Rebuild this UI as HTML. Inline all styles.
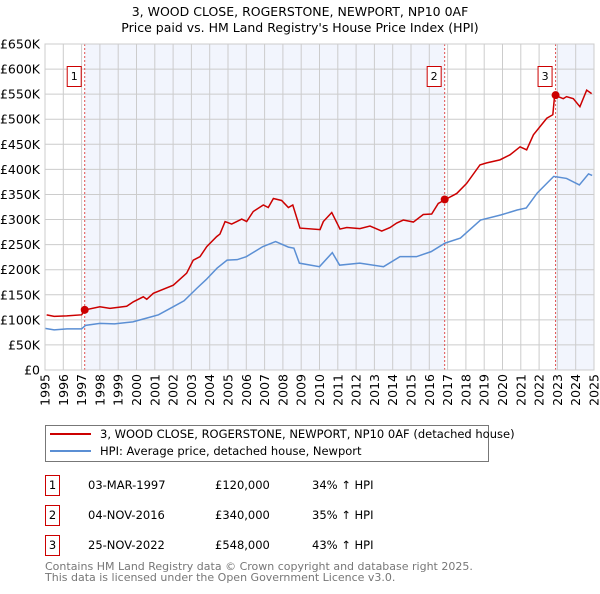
<!DOCTYPE html>
<html><head><meta charset="utf-8"><style>
body{margin:0;background:#fff;font-family:"DejaVu Sans","Liberation Sans",sans-serif;}
svg text{font-family:"DejaVu Sans","Liberation Sans",sans-serif;}
</style></head><body>
<svg id="chart" width="600" height="590" xmlns="http://www.w3.org/2000/svg">
<text x="300" y="16" font-size="12.5" text-anchor="middle">3, WOOD CLOSE, ROGERSTONE, NEWPORT, NP10 0AF</text>
<text x="300" y="32" font-size="12.5" text-anchor="middle">Price paid vs. HM Land Registry's House Price Index (HPI)</text>
<g id="plot"></g>
<g>
<rect x="45.5" y="425.5" width="443" height="36" fill="#fff" stroke="#777"/>
<line x1="50" y1="434" x2="91" y2="434" stroke="#cc0000" stroke-width="2"/>
<text x="100" y="438" font-size="11.5">3, WOOD CLOSE, ROGERSTONE, NEWPORT, NP10 0AF (detached house)</text>
<line x1="50" y1="451" x2="91" y2="451" stroke="#5b8fd4" stroke-width="2"/>
<text x="100" y="455" font-size="11.5">HPI: Average price, detached house, Newport</text>
</g>
<g font-size="11.5">
<rect x="45.5" y="475.5" width="14" height="20" fill="#fff" stroke="#cc0000"/><text x="52.5" y="489" text-anchor="middle">1</text>
<text x="88" y="489">03-MAR-1997</text><text x="215" y="489">£120,000</text><text x="312" y="489">34% ↑ HPI</text>
<rect x="45.5" y="505.5" width="14" height="20" fill="#fff" stroke="#cc0000"/><text x="52.5" y="519" text-anchor="middle">2</text>
<text x="88" y="519">04-NOV-2016</text><text x="215" y="519">£340,000</text><text x="312" y="519">35% ↑ HPI</text>
<rect x="45.5" y="535.5" width="14" height="20" fill="#fff" stroke="#cc0000"/><text x="52.5" y="549" text-anchor="middle">3</text>
<text x="88" y="549">25-NOV-2022</text><text x="215" y="549">£548,000</text><text x="312" y="549">43% ↑ HPI</text>
</g>
<text x="45" y="570" font-size="11" fill="#777">Contains HM Land Registry data © Crown copyright and database right 2025.</text>
<text x="45" y="581" font-size="11" fill="#777">This data is licensed under the Open Government Licence v3.0.</text>
</svg>
<script>
const yTicks=[0,50,100,150,200,250,300,350,400,450,500,550,600,650];
const yTickLabels=["£0","£50K","£100K","£150K","£200K","£250K","£300K","£350K","£400K","£450K","£500K","£550K","£600K","£650K"];
const years=[1995,1996,1997,1998,1999,2000,2001,2002,2003,2004,2005,2006,2007,2008,2009,2010,2011,2012,2013,2014,2015,2016,2017,2018,2019,2020,2021,2022,2023,2024,2025];
const hpiT=[1995.0,1995.5,1996.2,1997.0,1997.22,1998.0,1998.8,1999.8,2000.6,2001.2,2002.0,2002.6,2003.3,2003.8,2004.4,2004.95,2005.5,2006.0,2006.9,2007.6,2008.3,2008.6,2008.9,2010.0,2010.7,2011.1,2012.2,2013.5,2014.4,2015.3,2016.1,2016.86,2017.7,2018.8,2019.9,2020.8,2021.3,2021.9,2022.8,2023.5,2024.2,2024.7,2024.9];
const hpiV=[83,80,82,82,89,93,92,96,104,110,126,138,163,180,203,219,220,226,246,256,245,243,213,206,234,209,213,206,226,226,236,253,263,299,309,319,323,353,386,382,369,391,388];
const priceT=[1995.09,1995.5,1996.19,1997.0,1997.22,1998.0,1998.55,1999.46,1999.83,2000.37,2000.56,2000.92,2002.01,2002.74,2003.1,2003.47,2003.84,2004.38,2004.56,2004.84,2005.2,2005.48,2005.75,2006.02,2006.38,2006.93,2007.2,2007.48,2007.93,2008.3,2008.54,2008.93,2010.03,2010.21,2010.67,2011.12,2011.49,2012.21,2012.76,2013.4,2013.85,2014.22,2014.58,2015.13,2015.67,2016.13,2016.49,2016.88,2017.5,2018.04,2018.77,2019.14,2019.86,2020.41,2020.96,2021.32,2021.69,2022.42,2022.75,2022.85,2023.32,2023.5,2023.87,2024.23,2024.6,2024.87];
const priceV=[110,107,108,110,120,126,123,127,136,146,141,153,169,193,219,226,246,266,271,296,291,296,301,296,316,329,324,342,338,324,329,283,280,296,314,281,284,282,287,277,284,293,299,295,310,311,332,340,352,372,409,413,419,429,445,439,469,502,509,548,541,545,541,525,558,551];
const saleT=[1997.17,2016.84,2022.9];
const saleV=[120,340,548];
const saleLabels=["1","2","3"];

const X0=45,X1=594,Y0=370,Y1=44;
const xs=t=>X0+(t-1995)/(2025-1995)*(X1-X0);
const ys=v=>Y0-v/650*(Y0-Y1);
const NS="http://www.w3.org/2000/svg";
const plot=document.getElementById('plot');
function mk(tag,attrs,parent){const e=document.createElementNS(NS,tag);for(const k in attrs)e.setAttribute(k,attrs[k]);(parent||plot).appendChild(e);return e;}

let r=mk('rect',{x:xs(saleT[0]),y:Y1,width:xs(saleT[1])-xs(saleT[0]),height:Y0-Y1,fill:'#eef2fc',opacity:0.75});


r=mk('rect',{x:xs(saleT[2]),y:Y1,width:X1-xs(saleT[2]),height:Y0-Y1,fill:'#eef2fc',opacity:0.75});



years.forEach(y=>{
  const l=mk('line',{x1:xs(y),x2:xs(y),y1:Y1,y2:Y0,stroke:'#cccccc'});
  
  
  const t=mk('text',{x:0,y:0,'font-size':'12.5','text-anchor':'end',transform:`translate(${xs(y)+4.5},374) rotate(-90)`});
  t.textContent=y;
  
  
});
yTicks.forEach((v,i)=>{
  const l=mk('line',{x1:X0,x2:X1,y1:ys(v),y2:ys(v),stroke:'#cccccc'});
  
  
  const t=mk('text',{x:40,y:ys(v)+4.5,'font-size':'12.5','text-anchor':'end'});
  t.textContent=yTickLabels[i];
  
  
});

saleT.forEach((s,i)=>{
  const l=mk('line',{x1:xs(s),x2:xs(s),y1:Y1,y2:Y0,stroke:'#e05050','stroke-dasharray':'2,2'});
  
  
});

const hp=mk('polyline',{points:hpiT.map((t,i)=>xs(t)+','+ys(hpiV[i])).join(' '),fill:'none',stroke:'#5b8fd4','stroke-width':1.5});


const pp=mk('polyline',{points:priceT.map((t,i)=>xs(t)+','+ys(priceV[i])).join(' '),fill:'none',stroke:'#cc0000','stroke-width':1.5});



saleT.forEach((s,i)=>{
  const c=mk('circle',{cx:xs(s),cy:ys(saleV[i]),r:4,fill:'#cc0000'});
  
  
  const b=mk('rect',{x:xs(s)-17.5,y:66.5,width:14,height:20,fill:'#fff',stroke:'#cc0000'});
  
  
  const t=mk('text',{x:xs(s)-10.5,y:80,'font-size':'11','text-anchor':'middle'});
  t.textContent=saleLabels[i];
  
  
});
const bx=mk('rect',{x:X0,y:Y1,width:X1-X0,height:Y0-Y1,fill:'none',stroke:'#cccccc'});


</script>
</body></html>
